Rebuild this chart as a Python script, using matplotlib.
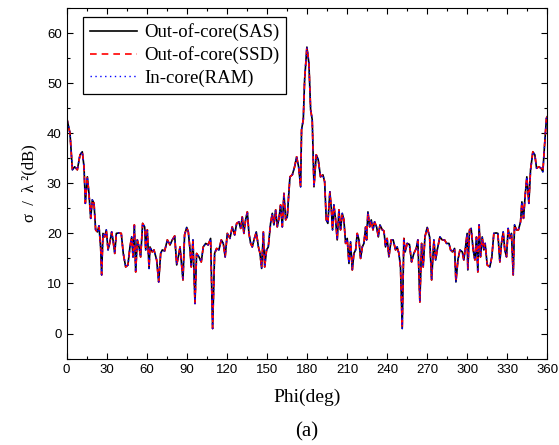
import matplotlib

matplotlib.use("Agg")
import matplotlib.pyplot as plt  # noqa: E402
from matplotlib.ticker import MultipleLocator  # noqa: E402

# bistatic RCS, phi in degrees, sigma/lambda^2 in dB
phi = [
    0, 2.6, 4.4, 6.1, 8.1, 10.1, 11.8, 13.1, 14.1, 15.6, 16.8, 18.1, 19.3,
    20.6, 21.8, 23.1, 24.3, 25.6, 26.3, 27.3, 28.6, 29.8, 31.1, 32.3, 33.8,
    34.8, 36.1, 37.3, 39.3, 41.0, 42.5, 44.3, 46.0, 47.5, 48.8, 49.8, 50.8,
    51.8, 53.0, 54.3, 55.5, 57.0, 58.5, 59.3, 60.5, 61.8, 62.5, 64.2, 65.5,
    67.5, 69.0, 70.5, 71.7, 73.5, 75.5, 77.5, 79.2, 81.0, 82.5, 83.7, 85.0,
    87.2, 88.4, 90.0, 91.2, 92.5, 93.4, 94.7, 96.2, 97.4, 99.2, 100.9, 102.4,
    104.2, 106.1, 107.9, 109.4, 110.9, 112.4, 114.1, 115.9, 117.4, 118.8,
    120.4, 122.4, 124.1, 125.9, 127.4, 129.1, 130.4, 131.6, 132.8, 134.1,
    135.4, 136.6, 137.9, 139.1, 140.4, 142.1, 143.7, 144.9, 146.1, 147.4,
    148.4, 149.8, 151.1, 152.8, 154.1, 155.3, 156.6, 157.8, 159.1, 160.3,
    161.6, 162.8, 164.1, 165.3, 167.3, 169.1, 170.8, 172.3, 173.8, 175.3,
    176.0, 177.3, 178.3, 180.0, 181.5, 182.8, 184.0, 185.3, 187.0, 188.5,
    190.2, 192.0, 193.3, 194.5, 195.7, 197.2, 198.2, 199.2, 200.2, 201.5,
    202.7, 204.0, 205.2, 206.5, 207.7, 209.0, 210.2, 211.5, 212.7, 214.0,
    215.2, 216.5, 217.7, 219.0, 220.2, 221.5, 222.7, 224.0, 224.7, 225.7,
    227.0, 228.2, 229.5, 230.7, 232.2, 233.5, 234.7, 236.5, 237.7, 238.9,
    240.1, 241.4, 243.1, 244.6, 246.4, 247.6, 248.9, 250.1, 251.4, 252.6,
    253.6, 255.1, 256.8, 258.4, 260.1, 261.9, 263.1, 264.6, 265.9, 267.1,
    268.4, 270.1, 271.9, 273.4, 275.1, 276.4, 277.6, 279.6, 281.4, 283.1,
    284.6, 286.4, 287.6, 289.1, 290.6, 291.6, 293.1, 294.6, 296.4, 297.5,
    298.8, 300.0, 300.5, 301.8, 303.0, 304.5, 305.8, 307.0, 308.0, 309.0,
    310.0, 311.3, 312.5, 313.5, 315.0, 317.0, 318.5, 320.0, 321.7, 323.0,
    324.5, 325.7, 327.0, 328.2, 329.5, 330.7, 332.0, 333.2, 334.5, 335.5,
    337.0, 338.4, 340.0, 341.0, 342.2, 343.5, 344.7, 346.2, 347.5, 349.2,
    350.7, 352.0, 353.7, 355.4, 356.7, 357.9, 359.4, 360,
]
rcs_sas = [
    43.3, 40.0, 32.7, 33.3, 32.7, 35.7, 36.3, 33.3, 26.0, 31.3, 28.0, 23.0, 26.7,
    26.0, 20.7, 20.3, 21.5, 17.0, 11.7, 20.0, 19.3, 20.7, 16.7, 18.0, 20.3,
    18.7, 16.0, 20.0, 20.1, 20.0, 16.0, 13.3, 13.7, 17.3, 19.3, 15.3, 21.7,
    12.3, 18.7, 17.3, 15.3, 22.0, 21.3, 16.7, 20.7, 13.0, 17.3, 16.3, 16.7,
    14.7, 10.3, 16.0, 16.7, 16.5, 18.7, 17.7, 18.7, 19.5, 13.7, 15.3, 17.3,
    10.7, 19.7, 21.2, 20.3, 16.7, 13.3, 18.7, 6.0, 16.0, 15.3, 14.3, 17.3,
    18.0, 17.7, 19.0, 1.0, 16.0, 17.0, 16.7, 18.7, 18.0, 15.3,
    20.0, 19.0, 21.3, 19.7, 22.0, 22.3, 21.0, 23.3, 20.0, 22.7,
    24.3, 20.0, 18.0, 17.3, 18.7, 20.3, 17.3, 16.0, 13.0, 20.3,
    13.3, 16.7, 17.3, 22.0, 24.0, 21.7, 24.7, 21.3, 23.0, 25.7,
    21.3, 28.0, 22.7, 23.3, 31.3, 31.7, 33.3, 35.3, 33.3, 29.3,
    40.7, 42.7, 50.7, 57.2, 54.0, 44.7, 42.7, 29.3, 35.7, 34.7,
    31.3, 31.7, 30.3, 22.7, 22.0, 28.3, 25.3, 20.7, 25.7, 22.7,
    18.7, 24.7, 20.7, 24.0, 22.7, 18.0, 19.0, 14.0, 18.3, 12.7,
    16.0, 16.7, 20.0, 18.7, 15.0, 17.3, 18.0, 21.3, 18.7, 24.3,
    21.3, 22.7, 20.7, 22.3, 21.3, 19.3, 21.7, 20.7, 20.5, 17.3,
    19.0, 15.3, 18.7, 18.7, 16.7, 17.3, 16.0, 13.3, 1.0, 19.0,
    16.3, 18.0, 17.8, 14.3, 16.0, 17.0, 18.7, 6.3, 18.0, 13.3,
    19.3, 21.2, 19.3, 10.7, 18.7, 14.7, 16.7, 19.3, 18.7, 18.7,
    18.0, 18.0, 16.7, 16.3, 17.0, 10.3, 14.7, 16.7, 16.3, 14.7,
    17.3, 20.0, 12.7, 20.7, 21.0, 16.7, 14.7, 19.3, 12.3, 21.7,
    15.3, 19.3, 16.7, 18.0, 13.7, 13.3, 15.3, 20.0, 20.1, 20.0,
    14.3, 18.0, 20.3, 16.7, 15.3, 21.0, 19.0, 20.0, 11.7, 21.7,
    20.7, 20.7, 22.3, 26.3, 23.0, 27.7, 31.3, 26.0, 32.7, 36.3,
    35.7, 33.0, 33.3, 33.0, 32.3, 37.3, 43.0, 43.3,
]
# the three storage back-ends give the same curve
rcs_ssd = list(rcs_sas)
rcs_ram = list(rcs_sas)

labels = ["Out-of-core(SAS)", "Out-of-core(SSD)", "In-core(RAM)"]

serif = ["Liberation Serif", "DejaVu Serif"]
sans = ["Liberation Sans", "DejaVu Sans"]

fig = plt.figure(figsize=(5.59, 4.45), dpi=100)
ax = fig.add_axes([0.119, 0.193, 0.860, 0.789])

ax.plot(phi, rcs_sas, color="black", lw=1.2, label=labels[0])
ax.plot(phi, rcs_ssd, color="red", lw=1.2, ls=(0, (4, 3)), label=labels[1])
ax.plot(phi, rcs_ram, color="blue", lw=1.0, ls=(0, (1, 2.5)), label=labels[2])

ax.set_xlim(0, 360)
ax.set_ylim(-5.1, 65)
ax.xaxis.set_major_locator(MultipleLocator(30))
ax.xaxis.set_minor_locator(MultipleLocator(15))
ax.yaxis.set_major_locator(MultipleLocator(10))
ax.yaxis.set_minor_locator(MultipleLocator(5))
ax.tick_params(which="both", direction="in", top=True, right=True,
               labeltop=False, labelright=False, width=0.8)
ax.tick_params(which="major", length=4)
ax.tick_params(which="minor", length=2.5)
for lab in ax.get_xticklabels() + ax.get_yticklabels():
    lab.set_family(sans)
    lab.set_fontsize(9.5)

ax.set_xlabel("Phi(deg)", family=serif, fontsize=14, labelpad=9)
ax.set_ylabel("σ  /  λ ²(dB)", family=serif, fontsize=12, labelpad=7)
fig.text(0.548, 0.02, "(a)", family=serif, fontsize=15, ha="center")

leg = ax.legend(loc="upper left", bbox_to_anchor=(0.035, 0.975),
                prop={"family": serif, "size": 13.5}, handlelength=2.5,
                handletextpad=0.4, borderpad=0.35, labelspacing=0.28,
                borderaxespad=0, fancybox=False, framealpha=1,
                edgecolor="black")
leg.get_frame().set_linewidth(0.9)

fig.savefig("out.png", dpi=100)
